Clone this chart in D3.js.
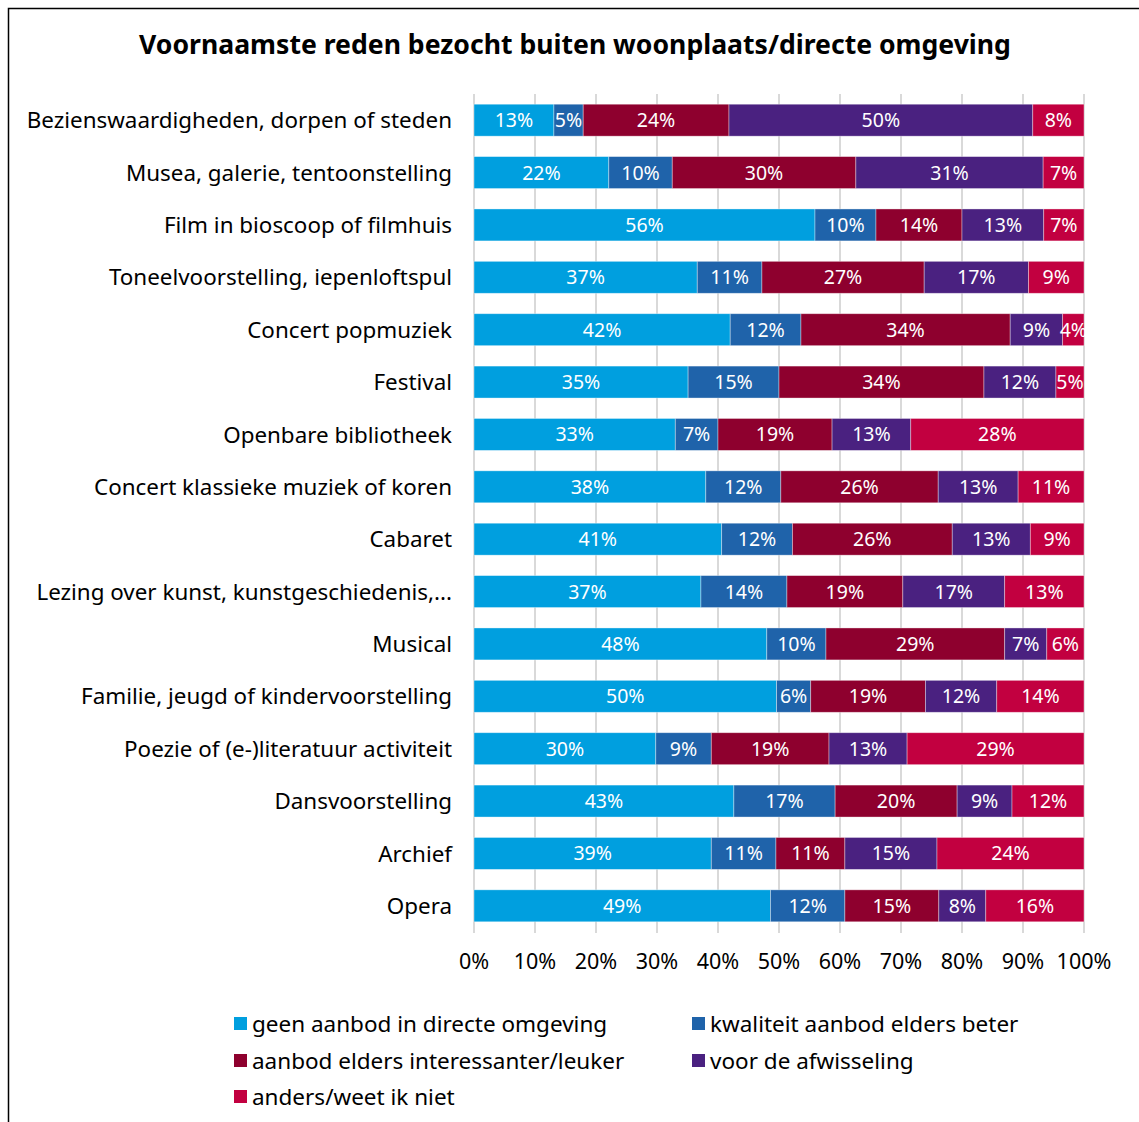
<!DOCTYPE html>
<html>
<head>
<meta charset="utf-8">
<script src="https://cdn.jsdelivr.net/npm/d3@7"></script>
<style>
  body { margin: 0; background: #fff; }
  text { font-family: "Noto Sans", "Open Sans", sans-serif; }
</style>
</head>
<body>
<script>
// categories, top to bottom
var categories = [
  "Bezienswaardigheden, dorpen of steden",
  "Musea, galerie, tentoonstelling",
  "Film in bioscoop of filmhuis",
  "Toneelvoorstelling, iepenloftspul",
  "Concert popmuziek",
  "Festival",
  "Openbare bibliotheek",
  "Concert klassieke muziek of koren",
  "Cabaret",
  "Lezing over kunst, kunstgeschiedenis,...",
  "Musical",
  "Familie, jeugd of kindervoorstelling",
  "Poezie of (e-)literatuur activiteit",
  "Dansvoorstelling",
  "Archief",
  "Opera"
];

var seriesNames = [
  "geen aanbod in directe omgeving",
  "kwaliteit aanbod elders beter",
  "aanbod elders interessanter/leuker",
  "voor de afwisseling",
  "anders/weet ik niet"
];
var seriesColors = ["#009fdf", "#1f63aa", "#8e002e", "#4a2180", "#c20040"];

// percentages per series (same order as categories)
var geenAanbod   = [13.1, 22.1, 55.9, 36.6, 42.0, 35.1, 33.0, 38.0, 40.6, 37.2, 48.0, 49.6, 29.8, 42.6, 38.9, 48.6];
var kwaliteit    = [ 4.8, 10.4, 10.0, 10.6, 11.6, 14.9,  7.0, 12.3, 11.6, 14.1,  9.7,  5.6,  9.1, 16.6, 10.6, 12.2];
var interessant  = [23.9, 30.1, 14.1, 26.6, 34.3, 33.6, 18.7, 25.8, 26.2, 19.0, 29.3, 18.8, 19.3, 20.0, 11.3, 15.4];
var afwisseling  = [49.8, 30.7, 13.4, 17.1,  8.6, 11.8, 12.9, 13.1, 12.8, 16.7,  6.9, 11.7, 12.8,  9.0, 15.1,  7.7];
var anders       = [ 8.4,  6.7,  6.6,  9.1,  3.5,  4.6, 28.4, 10.8,  8.8, 13.0,  6.1, 14.3, 29.0, 11.8, 24.1, 16.1];

var xTicks = [0, 10, 20, 30, 40, 50, 60, 70, 80, 90, 100];

var W = 1139, H = 1122;
var svg = d3.select("body").append("svg")
  .attr("width", W)
  .attr("height", H);

// frame
svg.append("rect")
  .attr("x", 8.5).attr("y", 8.5)
  .attr("width", W + 20).attr("height", H + 20)
  .attr("fill", "#fff")
  .attr("stroke", "#000")
  .attr("stroke-width", 1.5);

svg.append("text")
  .attr("x", 575).attr("y", 54)
  .attr("text-anchor", "middle")
  .style("font-size", "26.6px")
  .style("font-weight", "bold")
  .attr("fill", "#000")
  .text("Voornaamste reden bezocht buiten woonplaats/directe omgeving");

var x = d3.scaleLinear().domain([0, 100]).range([474, 1084]);
var y = d3.scaleBand().domain(categories)
  .range([94, 932])
  .paddingInner(0.39)
  .paddingOuter(0.195);

// grid lines
svg.append("g").selectAll("line")
  .data(xTicks)
  .enter().append("line")
  .attr("x1", function(d) { return x(d); })
  .attr("x2", function(d) { return x(d); })
  .attr("y1", 94).attr("y2", 933)
  .attr("stroke", "#d9d9d9")
  .attr("stroke-width", 2);

// stack the data
var table = categories.map(function(c, i) {
  return { cat: c, s0: geenAanbod[i], s1: kwaliteit[i], s2: interessant[i], s3: afwisseling[i], s4: anders[i] };
});
var stack = d3.stack().keys(["s0", "s1", "s2", "s3", "s4"]);
var layers = stack(table);

var groups = svg.append("g").selectAll("g")
  .data(layers)
  .enter().append("g")
  .attr("fill", function(d, i) { return seriesColors[i]; });

groups.selectAll("rect")
  .data(function(d) { return d; })
  .enter().append("rect")
  .attr("x", function(d) { return x(d[0]); })
  .attr("width", function(d) { return x(d[1]) - x(d[0]); })
  .attr("y", function(d) { return y(d.data.cat); })
  .attr("height", y.bandwidth())
  .attr("stroke", "rgba(255,255,255,0.45)")
  .attr("stroke-width", 0.8);

groups.selectAll("text")
  .data(function(d) { return d; })
  .enter().append("text")
  .attr("x", function(d) { return (x(d[0]) + x(d[1])) / 2; })
  .attr("y", function(d) { return y(d.data.cat) + y.bandwidth() / 2; })
  .attr("dy", "0.36em")
  .attr("text-anchor", "middle")
  .attr("fill", "#fff")
  .style("font-size", "19.5px")
  .text(function(d) { return Math.round(d[1] - d[0]) + "%"; });

// category labels
svg.append("g").selectAll("text")
  .data(categories)
  .enter().append("text")
  .attr("x", 452)
  .attr("y", function(d) { return y(d) + y.bandwidth() / 2; })
  .attr("dy", "0.36em")
  .attr("text-anchor", "end")
  .attr("fill", "#000")
  .style("font-size", "22.4px")
  .text(function(d) { return d; });

// x tick labels
svg.append("g").selectAll("text")
  .data(xTicks)
  .enter().append("text")
  .attr("x", function(d) { return x(d); })
  .attr("y", 961)
  .attr("dy", "0.36em")
  .attr("text-anchor", "middle")
  .attr("fill", "#000")
  .style("font-size", "21.5px")
  .text(function(d) { return d + "%"; });

// legend
var legendPos = [[234, 1024], [692, 1024], [234, 1061], [692, 1061], [234, 1097]];
var legend = svg.append("g").selectAll("g")
  .data(seriesNames)
  .enter().append("g")
  .attr("transform", function(d, i) { return "translate(" + legendPos[i][0] + "," + legendPos[i][1] + ")"; });

legend.append("rect")
  .attr("x", 0).attr("y", -7)
  .attr("width", 13).attr("height", 13)
  .attr("fill", function(d, i) { return seriesColors[i]; });

legend.append("text")
  .attr("x", 18)
  .attr("dy", "0.36em")
  .attr("fill", "#000")
  .style("font-size", "22.5px")
  .text(function(d) { return d; });
</script>
</body>
</html>
